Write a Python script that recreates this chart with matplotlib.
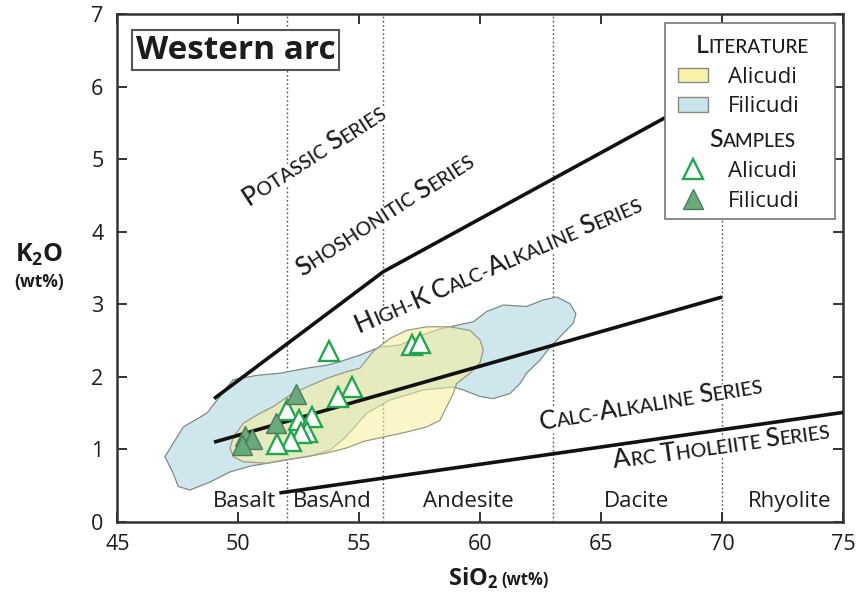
import matplotlib
matplotlib.use('Agg')
import matplotlib.pyplot as plt
from matplotlib.patches import Polygon, Rectangle
from matplotlib.font_manager import FontProperties
import numpy as np

# ---------------- data ----------------
alicudi_sio2 = [53.76, 57.17, 57.51, 54.69, 54.14, 52.00, 52.52, 53.04, 52.83, 52.58, 52.17, 51.59]
alicudi_k2o = [2.35, 2.44, 2.46, 1.86, 1.72, 1.54, 1.40, 1.44, 1.24, 1.22, 1.12, 1.08]
filicudi_sio2 = [52.37, 51.56, 50.27, 50.55, 50.14]
filicudi_k2o = [1.76, 1.36, 1.19, 1.14, 1.06]

# literature fields (outline vertices)
filicudi_field_sio2 = [46.97, 47.73, 48.70, 49.78, 50.76, 51.73, 52.83, 53.66, 54.21, 55.03, 55.86,
                       56.69, 57.65, 58.34, 58.75, 59.72, 60.27, 60.96, 61.92, 62.61, 63.16, 63.71,
                       63.96, 63.85, 63.44, 62.89, 62.47, 61.92, 61.65, 61.23, 60.54, 59.99, 59.30,
                       58.89, 57.65, 56.27, 55.31, 54.41, 53.79, 52.97, 51.73, 50.49, 49.66, 48.83,
                       48.00, 47.52, 47.31]
filicudi_field_k2o = [0.90, 1.31, 1.50, 1.96, 2.02, 2.05, 2.12, 2.16, 2.21, 2.30, 2.41,
                      2.44, 2.58, 2.66, 2.69, 2.76, 2.90, 2.99, 2.97, 3.06, 3.10, 3.01,
                      2.87, 2.74, 2.60, 2.41, 2.23, 2.05, 1.91, 1.77, 1.70, 1.73, 1.82,
                      1.86, 1.82, 1.68, 1.50, 1.16, 0.99, 0.91, 0.84, 0.77, 0.69, 0.55,
                      0.44, 0.49, 0.67]
alicudi_field_sio2 = [49.66, 49.80, 50.21, 50.90, 51.45, 52.14, 52.83, 53.66, 54.48, 55.03, 55.58,
                      56.27, 56.96, 57.79, 58.75, 59.58, 59.99, 60.13, 59.99, 59.58, 59.03, 58.89,
                      58.62, 58.34, 57.79, 56.96, 56.00, 55.17, 54.48, 53.66, 52.83, 52.00, 51.18,
                      50.21, 49.80]
alicudi_field_k2o = [1.02, 1.17, 1.36, 1.50, 1.59, 1.75, 1.86, 1.98, 2.07, 2.12, 2.35,
                     2.53, 2.64, 2.69, 2.69, 2.64, 2.51, 2.37, 2.19, 2.05, 1.91, 1.77,
                     1.59, 1.40, 1.31, 1.24, 1.17, 1.11, 1.02, 0.95, 0.90, 0.86, 0.81,
                     0.83, 0.90]

# series boundaries
sho_sio2, sho_k2o = [49.0, 56.0, 70.0], [1.70, 3.45, 6.00]
hkca_sio2, hkca_k2o = [49.0, 70.0], [1.10, 3.10]
tho_sio2, tho_k2o = [51.7, 75.0], [0.40, 1.51]
rock_bounds = [52, 56, 63, 70]
rock_names = ['Basalt', 'BasAnd', 'Andesite', 'Dacite', 'Rhyolite']
rock_name_x = [50.25, 53.9, 59.5, 66.45, 72.8]

series_names = ['Potassic Series', 'Shoshonitic Series', 'High-K Calc-Alkaline Series',
                'Calc-Alkaline Series', 'Arc Tholeiite Series']
series_x = [50.45, 52.65, 55.0, 62.5, 65.55]
series_y = [4.35, 3.38, 2.60, 1.27, 0.74]
series_angle = [33, 33, 23.5, 9.5, 8]

# ---------------- style ----------------
plt.rcParams['font.family'] = ['Open Sans', 'DejaVu Sans']
plt.rcParams['mathtext.fontset'] = 'custom'
plt.rcParams['mathtext.rm'] = 'Open Sans'
plt.rcParams['mathtext.bf'] = 'Open Sans:bold'
SC_FAMILY = ['Lato', 'DejaVu Sans']
TXT = '#1c1c1c'

fig = plt.figure(figsize=(8.61, 6.07), dpi=100)
ax = fig.add_axes([117.3 / 861, (607 - 522) / 607, (843 - 117.3) / 861, (522 - 14) / 607])
ax.set_xlim(45, 75)
ax.set_ylim(0, 7)
ax.set_xticks(range(45, 76, 5))
ax.set_yticks(range(0, 8))
ax.tick_params(direction='in', length=7, width=1.4, top=True, right=True,
               labelsize=15.5, color='#333333', labelcolor=TXT)
ax.tick_params(axis='x', pad=9)
ax.tick_params(axis='y', pad=10)
for sp in ax.spines.values():
    sp.set_linewidth(1.8)
    sp.set_color('#333333')

renderer = fig.canvas.get_renderer()


def smallcaps(x, y, s, size, angle=0.0, ratio=0.76, coords='data', ha='left',
              bbox=None, zorder=5, color=TXT, weight='medium'):
    chunks = []
    for ch in s:
        big = ch.isupper()
        sz = size if big else size * ratio
        if chunks and chunks[-1][1] == sz:
            chunks[-1][0] += ch.upper()
        else:
            chunks.append([ch.upper(), sz])

    def width(txt, sz):
        fp = FontProperties(family=SC_FAMILY, size=sz, weight=weight)
        w1 = renderer.get_text_width_height_descent('|' + txt + '|', fp, ismath=False)[0]
        w0 = renderer.get_text_width_height_descent('||', fp, ismath=False)[0]
        return w1 - w0

    widths = [width(t, sz) for t, sz in chunks]
    d = 0.0 if ha == 'left' else -sum(widths) / 2
    c, s_ = np.cos(np.deg2rad(angle)), np.sin(np.deg2rad(angle))
    for (t, sz), w in zip(chunks, widths):
        ax.annotate(t, xy=(x, y), xycoords=coords, xytext=(d * c, d * s_),
                    textcoords='offset pixels', rotation=angle, rotation_mode='anchor',
                    ha='left', va='baseline', fontsize=sz, family=SC_FAMILY, color=color,
                    fontweight=weight, bbox=bbox, zorder=zorder, annotation_clip=False)
        d += w


# rock-type boundaries
for xb in rock_bounds:
    ax.axvline(xb, color='#555555', lw=1.0, ls=(0, (1.2, 1.8)), zorder=1)

# literature fields
ax.add_patch(Polygon(np.column_stack([filicudi_field_sio2, filicudi_field_k2o]), closed=True,
                     facecolor='#cfe7ec', edgecolor='#7d8a8c', lw=0.9, zorder=2))
ax.add_patch(Polygon(np.column_stack([alicudi_field_sio2, alicudi_field_k2o]), closed=True,
                     facecolor=(0.973, 0.937, 0.60, 0.55), edgecolor='#9a9a86', lw=0.9, zorder=3))

# series boundary lines
for xs, ys in [(sho_sio2, sho_k2o), (hkca_sio2, hkca_k2o), (tho_sio2, tho_k2o)]:
    ax.plot(xs, ys, color='#111111', lw=2.6, solid_capstyle='butt', zorder=4)

# samples
tri = dict(ls='none', marker='^', markersize=15)
ax.plot(alicudi_sio2, alicudi_k2o, markerfacecolor='white', markeredgecolor='#22a650',
        markeredgewidth=1.7, zorder=6, **tri)
ax.plot(filicudi_sio2, filicudi_k2o, markerfacecolor='#69a97b', markeredgecolor='#4c7a5a',
        markeredgewidth=1.0, zorder=6, **tri)

# rock names
for name, xn in zip(rock_names, rock_name_x):
    ax.text(xn, 0.2, name, ha='center', va='baseline', fontsize=16, color=TXT, zorder=5)

# series names
white = dict(facecolor='white', edgecolor='none', pad=0.6)
for name, xs_, ys_, ang in zip(series_names, series_x, series_y, series_angle):
    smallcaps(xs_, ys_, name, 18.5, angle=ang, bbox=white, zorder=5)

# title box
ax.text(0.163, 0.929, 'Western arc', transform=ax.transAxes, ha='center', va='center',
        fontsize=24, fontweight='bold', color=TXT, zorder=10,
        bbox=dict(boxstyle='square,pad=0.1', facecolor='white', edgecolor='#555555', lw=1.5))

# legend (drawn manually)
ax.add_patch(Rectangle((0.7544, 0.5965), 0.2343, 0.3858, transform=ax.transAxes,
                       facecolor='white', edgecolor='#777777', lw=1.2, zorder=10))
smallcaps(0.8746, 0.9226, 'Literature', 18, coords='axes fraction', ha='center', zorder=11)
smallcaps(0.876, 0.7388, 'Samples', 18, coords='axes fraction', ha='center', zorder=11)
ax.add_patch(Rectangle((0.7731, 0.8667), 0.0413, 0.0264, transform=ax.transAxes,
                       facecolor='#f8f1a8', edgecolor='#8a8a80', lw=1.0, zorder=11))
ax.add_patch(Rectangle((0.7731, 0.8077), 0.0413, 0.0295, transform=ax.transAxes,
                       facecolor='#c9e4ea', edgecolor='#8a8a80', lw=1.0, zorder=11))
ax.plot([0.7937], [0.695], transform=ax.transAxes, markerfacecolor='white',
        markeredgecolor='#22a650', markeredgewidth=1.7, zorder=11, clip_on=False, **tri)
ax.plot([0.7937], [0.6365], transform=ax.transAxes, markerfacecolor='#69a97b',
        markeredgecolor='#4c7a5a', markeredgewidth=1.0, zorder=11, clip_on=False, **tri)
for yl, lab in zip([0.8636, 0.8077, 0.6797, 0.6207], ['Alicudi', 'Filicudi', 'Alicudi', 'Filicudi']):
    ax.text(0.8414, yl, lab, transform=ax.transAxes, ha='left', va='baseline', fontsize=16,
            color=TXT, zorder=11)

# axis labels
fig.text(0.578, 0.036, r'$\mathbf{SiO_2}$', ha='right', va='baseline', fontsize=17, color=TXT)
fig.text(0.582, 0.036, '(wt%)', ha='left', va='baseline', fontsize=12, fontweight='bold', color=TXT)
fig.text(0.045, 0.569, r'$\mathbf{K_2O}$', ha='center', va='baseline', fontsize=18, color=TXT)
fig.text(0.045, 0.527, '(wt%)', ha='center', va='baseline', fontsize=12.5, fontweight='bold', color=TXT)

fig.savefig('out.png', dpi=100)
